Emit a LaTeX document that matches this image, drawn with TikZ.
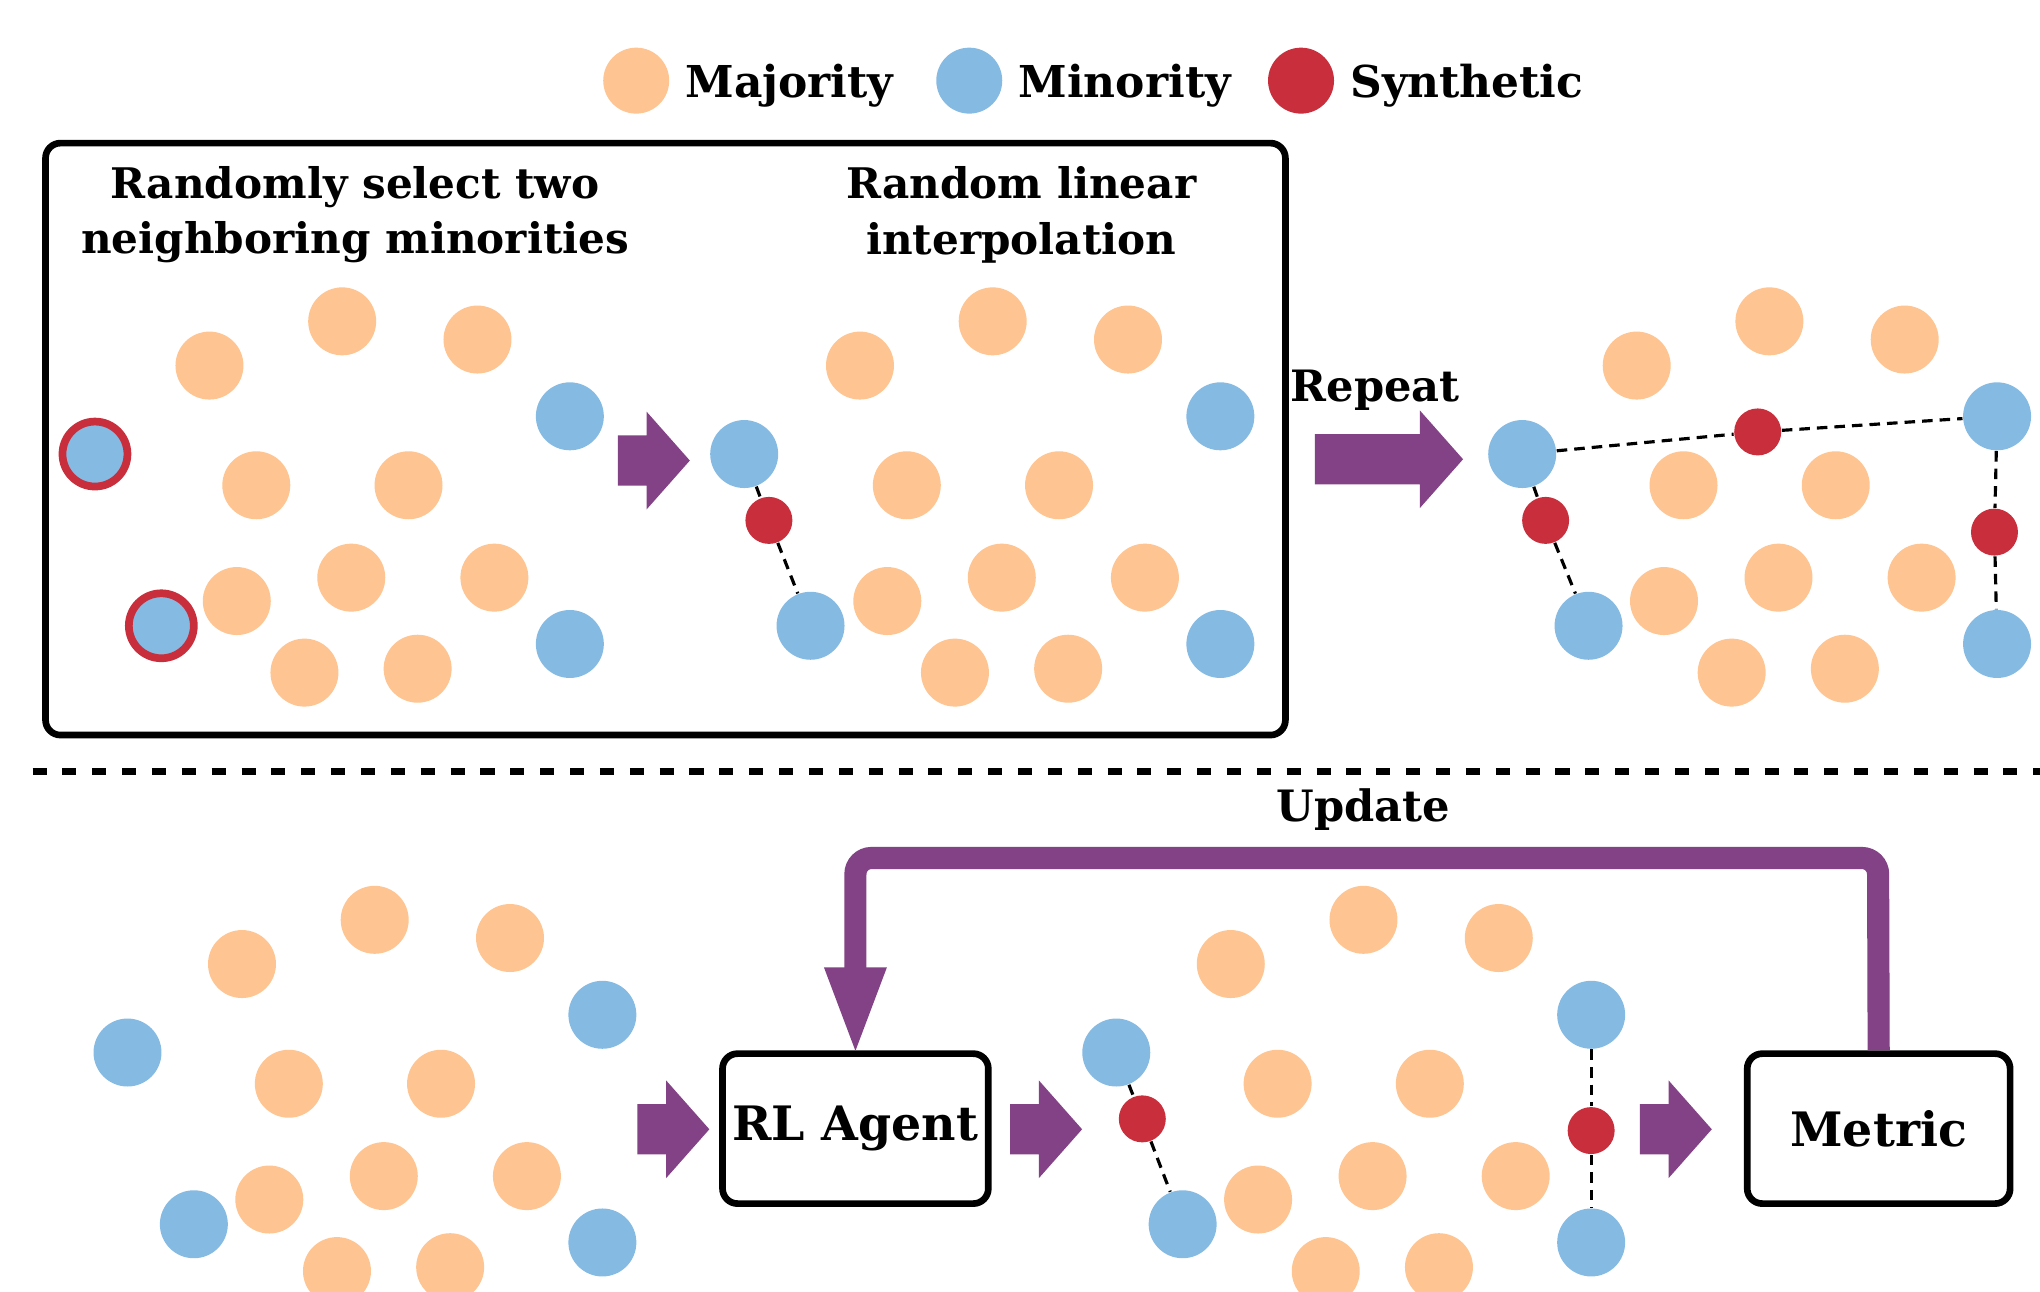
\documentclass[tikz,border=0pt]{standalone}
\usepackage{fontspec}
\setmainfont{DejaVu Serif}
\usetikzlibrary{positioning,shapes.arrows,arrows.meta}

\definecolor{majcol}{RGB}{254,196,145}
\definecolor{mincol}{RGB}{133,186,226}
\definecolor{syncol}{RGB}{200,46,59}
\definecolor{arrcol}{RGB}{131,65,134}

\begin{document}
\begin{tikzpicture}[x=0.01301cm,y=-0.01301cm]
    \tikzstyle{maj}=[circle,fill=majcol,minimum size=0.68cm,inner sep=0pt]
    \tikzstyle{mino}=[circle,fill=mincol,minimum size=0.68cm,inner sep=0pt]
    \tikzstyle{selmino}=[circle,fill=mincol,draw=syncol,line width=2.2pt,minimum size=0.65cm,inner sep=0pt]
    \tikzstyle{synth}=[circle,fill=syncol,minimum size=0.47cm,inner sep=0pt]
    \tikzstyle{legdot}=[circle,minimum size=0.66cm,inner sep=0pt]
    \tikzstyle{legtext}=[font=\bfseries\fontsize{12.5}{15}\selectfont,inner sep=0pt,text depth=0pt,anchor=west]
    \tikzstyle{title}=[font=\bfseries\fontsize{12}{15.9}\selectfont,align=center]
    \tikzstyle{label}=[font=\bfseries\fontsize{12.3}{15}\selectfont]
    \tikzstyle{stagebox}=[draw,line width=1.9pt,rounded corners=0.15cm,inner xsep=0.1cm,minimum width=2.63cm,minimum height=1.5cm,font=\bfseries\fontsize{13.5}{16}\selectfont]
    \tikzstyle{blockarr}=[single arrow,fill=arrcol,inner xsep=0pt,inner ysep=0.245cm,single arrow head extend=0.237cm,single arrow tip angle=97,minimum height=0.72cm]
    \tikzstyle{interp}=[densely dashed,line width=0.9pt]

    \useasboundingbox (0,0) rectangle (1568,993);

    % legend
    \node[legdot,fill=majcol] (lg-maj) at (489,62) {};
    \node[legtext,right=0.15cm of lg-maj] {Majority};
    \node[legdot,fill=mincol] (lg-min) at (745,62) {};
    \node[legtext,right=0.15cm of lg-min] {Minority};
    \node[legdot,fill=syncol] (lg-syn) at (1000,62) {};
    \node[legtext,right=0.15cm of lg-syn] {Synthetic};

    % upper half
    \draw[line width=1.9pt,rounded corners=0.15cm] (35,110) rectangle (988,565);
    \node[title] (sel-title) at (273,165) {Randomly select two\\neighboring minorities};
    \node[title] (int-title) at (785,165) {Random linear\\interpolation};

    \foreach \p/\dx/\dy in {a/0/0, b/500/0, c/1097/0, d/25/460, e/785/460} {
        \foreach \num/\x/\y in {1/161/281, 2/263/247, 3/367/261, 4/197/373, 5/314/373,
                                6/182/462, 7/270/444, 8/380/444, 9/234/517, 10/321/514}
            \node[maj] (\p-j\num) at (\x+\dx,\y+\dy) {};
        \foreach \num/\x/\y in {3/438/320, 4/438/495}
            \node[mino] (\p-m\num) at (\x+\dx,\y+\dy) {};
    }
    \foreach \p/\dx/\dy in {b/499/0, c/1097/0, d/25/460, e/785/460} {
        \node[mino] (\p-m1) at (73+\dx,349+\dy) {};
        \node[mino] (\p-m2) at (124+\dx,481+\dy) {};
    }
    \node[selmino] (a-m1) at (73,349) {};
    \node[selmino] (a-m2) at (124,481) {};

    \node[synth] (b-s1) at (591,400) {};
    \node[synth] (c-s1) at (1188,400) {};
    \node[synth] (c-s2) at (1351,332) {};
    \node[synth] (c-s3) at (1533,409) {};
    \node[synth] (e-s1) at (878,860) {};
    \node[synth] (e-s2) at (1223,869) {};

    \foreach \from/\to in {b-m1/b-s1, b-s1/b-m2, c-m1/c-s1, c-s1/c-m2, c-m1/c-s2, c-s2/c-m3,
                           c-m3/c-s3, c-s3/c-m4, e-m1/e-s1, e-s1/e-m2, e-m3/e-s2, e-s2/e-m4}
        \draw[interp] (\from) -- (\to);

    \node[blockarr] (arr-int) at (494,354) {};
    \node[blockarr,minimum height=1.483cm] (arr-rep) at (1059,353) {};
    \node[label] (repeat) at (1057,300) {Repeat};

    % separator
    \draw[line width=2.2pt,dash pattern=on 4pt off 4.5pt] (25,593) -- (1568,593);

    % lower half
    \node[stagebox] (agent) at (657.5,867.5) {RL Agent};
    \node[stagebox] (metric) at (1444,867.5) {Metric};
    \node[blockarr] (arr-in) at (509,868) {};
    \node[blockarr] (arr-act) at (795.5,868) {};
    \node[blockarr] (arr-eval) at (1279.5,868) {};

    \coordinate (loop-r) at (1443.5,659.5);
    \coordinate (loop-l) at (657.5,659.5);
    \draw[arrcol,line width=6.3pt,rounded corners=0.16cm,shorten >=-2pt,-{Triangle[length=0.9cm,width=0.55cm]}]
        (metric.north) -- (loop-r) -- (loop-l) -- (agent.north);
    \node[label] (update) at (1048,622) {Update};
\end{tikzpicture}
\end{document}
